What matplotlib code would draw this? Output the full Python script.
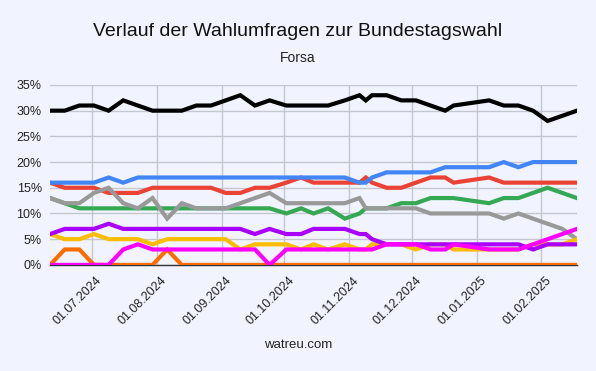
import matplotlib
matplotlib.use("Agg")
import matplotlib.pyplot as plt
import matplotlib.dates as mdates
from matplotlib.ticker import FuncFormatter, MultipleLocator
from matplotlib.transforms import ScaledTranslation
import pandas as pd

plt.rcParams['font.family'] = ['Liberation Sans', 'DejaVu Sans']

# poll dates (Forsa)
dates = ['2024-06-11', '2024-06-18', '2024-06-25', '2024-07-02', '2024-07-09', '2024-07-16',
         '2024-07-23', '2024-07-30', '2024-08-06', '2024-08-13', '2024-08-20', '2024-08-27',
         '2024-09-03', '2024-09-10', '2024-09-17', '2024-09-24', '2024-10-02', '2024-10-09',
         '2024-10-15', '2024-10-22', '2024-10-30', '2024-11-06', '2024-11-09', '2024-11-12',
         '2024-11-19', '2024-11-26', '2024-12-03', '2024-12-10', '2024-12-17', '2024-12-21',
         '2025-01-07', '2025-01-14', '2025-01-21', '2025-01-28', '2025-02-04', '2025-02-11',
         '2025-02-18']

black = [30, 30, 31, 31, 30, 32, 31, 30, 30, 30, 31, 31, 32, 33, 31, 32, 31, 31, 31, 31,
         32, 33, 32, 33, 33, 32, 32, 31, 30, 31, 32, 31, 31, 30, 28, 29, 30]
red = [16, 15, 15, 15, 14, 14, 14, 15, 15, 15, 15, 15, 14, 14, 15, 15, 16, 17, 16, 16,
       16, 16, 17, 16, 15, 15, 16, 17, 17, 16, 17, 16, 16, 16, 16, 16, 16]
blue = [16, 16, 16, 16, 17, 16, 17, 17, 17, 17, 17, 17, 17, 17, 17, 17, 17, 17, 17, 17,
        17, 16, 16, 17, 18, 18, 18, 18, 19, 19, 19, 20, 19, 20, 20, 20, 20]
green = [13, 12, 11, 11, 11, 11, 11, 11, 11, 11, 11, 11, 11, 11, 11, 11, 10, 11, 10, 11,
         9, 10, 11, 11, 11, 12, 12, 13, 13, 13, 12, 13, 13, 14, 15, 14, 13]
gray = [13, 12, 12, 14, 15, 12, 11, 13, 9, 12, 11, 11, 11, 12, 13, 14, 12, 12, 12, 12,
        12, 13, 11, 11, 11, 11, 11, 10, 10, 10, 10, 9, 10, 9, 8, 7, 5]
yellow = [6, 5, 5, 6, 5, 5, 5, 4, 5, 5, 5, 5, 5, 3, 4, 4, 4, 3, 4, 3,
          4, 3, 3, 4, 4, 4, 3, 4, 4, 3, 3, 3, 3, 4, 4, 4, 5]
purple = [6, 7, 7, 7, 8, 7, 7, 7, 7, 7, 7, 7, 7, 7, 6, 7, 6, 6, 7, 7,
          7, 6, 6, 5, 4, 4, 4, 4, 4, 4, 4, 4, 4, 3, 4, 4, 4]
orange = [0, 3, 3, 0, 0, 0, 0, 0, 3, 0, 0, 0, 0, 0, 0, 0, 0, 0, 0, 0,
          0, 0, 0, 0, 0, 0, 0, 0, 0, 0, 0, 0, 0, 0, 0, 0, 0]
magenta = [0, 0, 0, 0, 0, 3, 4, 3, 3, 3, 3, 3, 3, 3, 3, 0, 3, 3, 3, 3,
           3, 3, 3, 3, 4, 4, 4, 3, 3, 4, 3, 3, 3, 4, 5, 6, 7]

x = pd.to_datetime(dates)
bg = '#f1f4fe'

fig = plt.figure(figsize=(5.96, 3.71), dpi=100, facecolor=bg)
ax = fig.add_axes([0.084, 0.286, 0.884, 0.485], facecolor=bg)

series = [(black, '#000000'), (red, '#ea4335'), (blue, '#4285f4'), (green, '#34a853'),
          (gray, '#999999'), (yellow, '#fbbc04'), (purple, '#aa00ff'),
          (orange, '#ff6d01'), (magenta, '#ff00ff')]
for vals, col in series:
    ax.plot(x, vals, color=col, lw=3, solid_joinstyle='miter', zorder=3)

ax.set_xlim(x[0], x[-1])
ax.set_ylim(0, 35)
ax.yaxis.set_major_locator(MultipleLocator(5))
ax.yaxis.set_major_formatter(FuncFormatter(lambda v, p: f'{v:.0f}%'))
ax.xaxis.set_major_locator(mdates.MonthLocator())
ax.xaxis.set_major_formatter(mdates.DateFormatter('%d.%m.%Y'))

ax.grid(True, color='#c4c6d0', lw=1, zorder=0)
for s in ['top', 'right', 'left']:
    ax.spines[s].set_visible(False)
ax.spines['bottom'].set_color('#333333')
ax.spines['bottom'].set_linewidth(1)
ax.tick_params(length=0, labelsize=9, colors='#222222')
ax.tick_params(axis='y', pad=6)
ax.tick_params(axis='x', pad=7)
for lbl in ax.get_xticklabels():
    lbl.set_rotation(45)
    lbl.set_ha('right')
    lbl.set_va('top')
    lbl.set_rotation_mode('anchor')
    lbl.set_transform(lbl.get_transform() + ScaledTranslation(0.04, 0, fig.dpi_scale_trans))

fig.text(0.5, 0.915, 'Verlauf der Wahlumfragen zur Bundestagswahl', ha='center', va='center',
         fontsize=14, color='#111111')
fig.text(0.5, 0.843, 'Forsa', ha='center', va='center', fontsize=10, color='#222222')
fig.text(0.5, 0.07, 'watreu.com', ha='center', va='center', fontsize=9.5, color='#222222')

fig.savefig('out.png', dpi=100, facecolor=bg)
